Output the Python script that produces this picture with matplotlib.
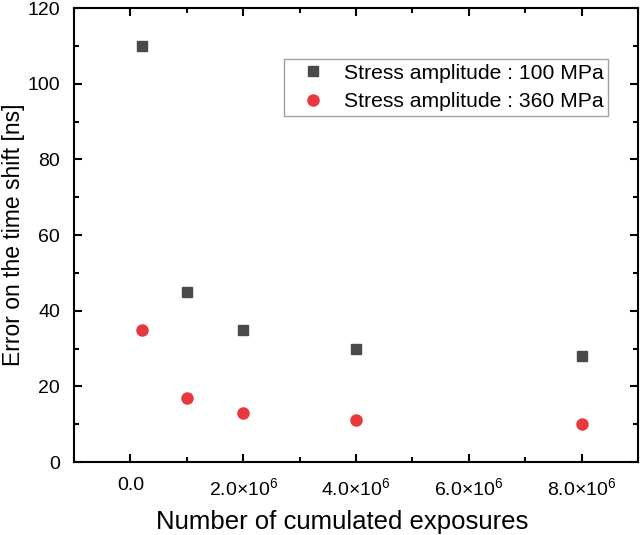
import numpy as np
import matplotlib
matplotlib.use('Agg')
import matplotlib.pyplot as plt
from matplotlib.ticker import MultipleLocator, FuncFormatter

plt.rcParams['font.family'] = ['Liberation Sans', 'DejaVu Sans']
plt.rcParams['mathtext.fontset'] = 'custom'
plt.rcParams['mathtext.rm'] = 'Liberation Sans'
plt.rcParams['mathtext.it'] = 'Liberation Sans:italic'
plt.rcParams['mathtext.bf'] = 'Liberation Sans:bold'

# data
exposures = [2e5, 1e6, 2e6, 4e6, 8e6]
err_100 = [110, 45, 35, 30, 28]
err_360 = [35, 17, 13, 11, 10]


def sci_fmt(v, pos):
    if abs(v) < 1:
        return '0.0'
    e = int(np.floor(np.log10(abs(v))))
    m = v / 10 ** e
    return r'%.1f$\times$10$^{%d}$' % (m, e)


fig = plt.figure(figsize=(6.4, 5.35), dpi=100)
ax = fig.add_axes([0.1156, 0.1364, 0.8814, 0.8486])

ax.plot(exposures, err_100, 's', color='#4a4a4a', ms=7, mec='#4a4a4a',
        label='Stress amplitude : 100 MPa')
ax.plot(exposures, err_360, 'o', color='#e8383d', ms=8, mec='#e8383d',
        label='Stress amplitude : 360 MPa')

ax.set_xlim(-1e6, 9e6)
ax.set_ylim(0, 120)
ax.xaxis.set_major_locator(MultipleLocator(2e6))
ax.xaxis.set_minor_locator(MultipleLocator(1e6))
ax.yaxis.set_major_locator(MultipleLocator(20))
ax.yaxis.set_minor_locator(MultipleLocator(10))
ax.xaxis.set_major_formatter(FuncFormatter(sci_fmt))

ax.tick_params(which='both', direction='in', top=True, right=True, width=1.5)
ax.tick_params(which='major', length=6)
ax.tick_params(which='minor', length=3.5)
ax.tick_params(axis='x', which='major', pad=11, labelsize=14)
ax.tick_params(axis='y', which='major', pad=10, labelsize=14)
for s in ax.spines.values():
    s.set_linewidth(1.5)

ax.set_xlabel('Number of cumulated exposures', fontsize=18.5)
ax.set_ylabel('Error on the time shift [ns]', fontsize=16.5)
ax.xaxis.set_label_coords(0.475, -0.105)
ax.yaxis.set_label_coords(-0.087, 0.5)

leg = ax.legend(loc='upper right', bbox_to_anchor=(0.947, 0.888),
                borderaxespad=0, fontsize=15.2,
                frameon=True, fancybox=False, edgecolor='#888888',
                handletextpad=0.3, borderpad=0.22, labelspacing=0.45,
                handlelength=2.3)
leg.get_frame().set_linewidth(1.0)

fig.savefig('out.png', dpi=100)
